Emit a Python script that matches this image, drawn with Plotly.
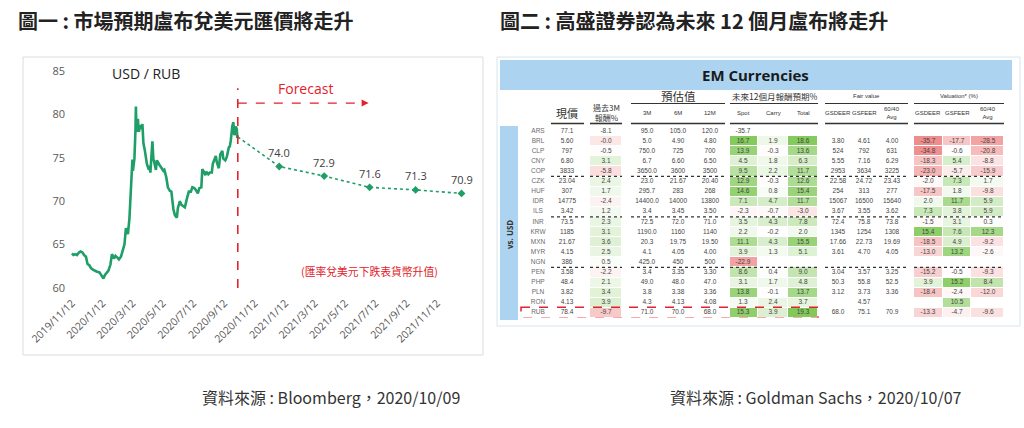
import plotly.graph_objects as go

# ---------------- data: left chart ----------------
hist_dates = [
    "2019-11-12","2019-11-15","2019-11-19","2019-11-22","2019-11-26","2019-11-29","2019-12-03","2019-12-06",
    "2019-12-10","2019-12-13","2019-12-17","2019-12-20","2019-12-24","2019-12-27","2019-12-31","2020-01-06",
    "2020-01-10","2020-01-14","2020-01-17","2020-01-21","2020-01-24","2020-01-28","2020-01-31","2020-02-04",
    "2020-02-07","2020-02-11","2020-02-14","2020-02-18","2020-02-21","2020-02-25","2020-02-28","2020-03-03",
    "2020-03-06","2020-03-10","2020-03-12","2020-03-13","2020-03-16","2020-03-18","2020-03-19","2020-03-20",
    "2020-03-23","2020-03-24","2020-03-25","2020-03-27","2020-03-30","2020-04-01","2020-04-03","2020-04-06",
    "2020-04-08","2020-04-10","2020-04-14","2020-04-16","2020-04-17","2020-04-21","2020-04-23","2020-04-24",
    "2020-04-28","2020-04-30","2020-05-05","2020-05-08","2020-05-13","2020-05-15","2020-05-19","2020-05-22",
    "2020-05-26","2020-05-29","2020-06-02","2020-06-05","2020-06-09","2020-06-11","2020-06-15","2020-06-18",
    "2020-06-22","2020-06-25","2020-06-30","2020-07-03","2020-07-07","2020-07-10","2020-07-14","2020-07-17",
    "2020-07-21","2020-07-24","2020-07-28","2020-07-30","2020-08-03","2020-08-05","2020-08-07","2020-08-11",
    "2020-08-14","2020-08-18","2020-08-20","2020-08-24","2020-08-26","2020-08-28","2020-09-01","2020-09-04",
    "2020-09-08","2020-09-10","2020-09-14","2020-09-17","2020-09-21","2020-09-23","2020-09-25","2020-09-28",
    "2020-09-30","2020-10-02","2020-10-05","2020-10-07","2020-10-08","2020-10-09",
]
hist_values = [
    64.0, 63.8, 63.9, 63.8, 64.1, 64.2, 64.1, 63.8,
    63.6, 62.8, 62.6, 62.3, 62.1, 62.0, 61.9, 61.8,
    61.4, 61.1, 61.5, 61.8, 62.0, 62.7, 63.9, 63.4,
    63.7, 63.5, 63.3, 63.6, 64.2, 65.0, 66.9, 66.2,
    68.0, 72.5, 74.8, 73.5, 74.9, 78.0, 80.9, 78.0,
    79.5, 78.5, 78.0, 78.8, 78.3, 78.9, 76.7, 75.8,
    75.2, 74.3, 73.6, 74.1, 73.3, 76.9, 74.8, 74.7,
    73.6, 74.7, 74.2, 73.9, 73.5, 73.6, 72.7, 71.6,
    71.2, 71.1, 69.1, 68.4, 68.1, 69.2, 70.0, 69.6,
    69.4, 69.3, 70.5, 71.1, 71.1, 71.6, 71.5, 71.3,
    70.9, 71.5, 71.6, 73.7, 73.3, 73.0, 73.4, 73.1,
    73.3, 73.3, 74.3, 74.8, 75.2, 74.5, 73.8, 75.4,
    75.8, 74.9, 74.7, 75.1, 76.2, 76.3, 77.0, 78.6,
    79.1, 77.6, 78.6, 78.3, 77.3, 77.4,
]
forecast_dates = ["2020-10-09", "2020-12-31", "2021-03-31", "2021-06-30", "2021-09-30", "2021-12-31"]
forecast_values = [77.4, 74.0, 72.9, 71.6, 71.3, 70.9]
x_tick_dates = ["2019-11-12","2020-01-12","2020-03-12","2020-05-12","2020-07-12","2020-09-12","2020-11-12",
                "2021-01-12","2021-03-12","2021-05-12","2021-07-12","2021-09-12","2021-11-12"]
x_tick_labels = [d.replace("-0", "/").replace("-", "/") for d in x_tick_dates]
y_ticks = [60, 65, 70, 75, 80, 85]
forecast_start = "2020-10-09"

# ---------------- data: right table ----------------
codes = ["ARS","BRL","CLP","CNY","COP","CZK","HUF","IDR","ILS","INR","KRW","MXN","MYR","NGN","PEN","PHP","PLN","RON","RUB"]
price = ["77.1","5.60","797","6.80","3833","23.04","307","14775","3.42","73.5","1185","21.67","4.15","386","3.58","48.4","3.82","4.13","78.4"]
ret3m = ["-8.1","-0.0","-0.5","3.1","-5.8","2.4","1.7","-2.4","1.2","2.3","3.1","3.6","2.5","0.5","-2.2","2.1","3.4","3.9","-9.7"]
f3m = ["95.0","5.0","750.0","6.7","3650.0","23.0","295.7","14400.0","3.4","72.5","1190.0","20.3","4.1","425.0","3.4","49.0","3.8","4.3","71.0"]
f6m = ["105.0","4.90","725","6.60","3600","21.67","283","14000","3.45","72.0","1160","19.75","4.05","450","3.35","48.0","3.38","4.13","70.0"]
f12m = ["120.0","4.80","700","6.50","3500","20.40","268","13800","3.50","71.0","1140","19.50","4.00","500","3.30","47.0","3.36","4.08","68.0"]
spot = ["-35.7","16.7","13.9","4.5","9.5","12.9","14.6","7.1","-2.3","3.5","2.2","11.1","3.9","-22.9","8.6","3.1","13.8","1.3","15.3"]
carry = ["","1.9","-0.3","1.8","2.2","-0.3","0.8","4.7","-0.7","4.3","-0.2","4.3","1.3","","0.4","1.7","-0.1","2.4","3.9"]
total = ["","18.6","13.6","6.3","11.7","12.6","15.4","11.7","-3.0","7.8","2.0","15.5","5.1","","9.0","4.8","13.7","3.7","19.3"]
fv_gsdeer = ["","3.80","524","5.55","2953","22.58","254","15067","3.67","72.4","1345","17.66","3.61","","3.04","50.3","3.12","","68.0"]
fv_gsfeer = ["","4.61","792","7.16","3634","24.72","313","16500","3.55","75.8","1254","22.73","4.70","","3.57","55.8","3.73","4.57","75.1"]
fv_avg = ["","4.00","631","6.29","3225","23.43","277","15640","3.62","73.8","1308","19.69","4.05","","3.25","52.5","3.36","","70.9"]
val_gsdeer = ["","-35.7","-34.8","-18.3","-23.0","-2.0","-17.5","2.0","7.3","-1.5","15.4","-18.5","-13.0","","-15.2","3.9","-18.4","","-13.3"]
val_gsfeer = ["","-17.7","-0.6","5.4","-5.7","7.3","1.8","11.7","3.8","3.1","7.6","4.9","13.2","","-0.5","15.2","-2.4","10.5","-4.7"]
val_avg = ["","-28.5","-20.8","-8.8","-15.9","1.7","-9.8","5.9","5.9","0.3","12.3","-9.2","-2.6","","-9.3","8.4","-12.0","","-9.6"]

# ---------------- helpers / layout constants ----------------
W, H = 1024, 428
def px(x): return x / W
def py(y): return 1 - y / H

GREEN = "#1f9e68"
RED = "#e3222b"
CJK = "Noto Sans CJK TC"
NUM = "Liberation Sans Narrow, Liberation Sans, Arial"

fig = go.Figure()

# ---- left chart traces ----
fig.add_trace(go.Scatter(x=hist_dates, y=hist_values, mode="lines",
                         line=dict(color=GREEN, width=2.6), hoverinfo="skip",
                         xaxis="x", yaxis="y"))
fig.add_trace(go.Scatter(x=forecast_dates, y=forecast_values, mode="lines",
                         line=dict(color=GREEN, width=1.6, dash="dot"), hoverinfo="skip",
                         xaxis="x", yaxis="y"))
fig.add_trace(go.Scatter(x=forecast_dates[1:], y=forecast_values[1:], mode="markers",
                         marker=dict(symbol="diamond", size=6, color=GREEN), hoverinfo="skip",
                         xaxis="x", yaxis="y"))

annotations = []
def note(x, y, text, size, color, family, xanchor="center", **kw):
    annotations.append(dict(x=px(x), y=py(y), xref="paper", yref="paper", xanchor=xanchor, yanchor="middle",
                            text=text, showarrow=False, font=dict(size=size, color=color, family=family), **kw))

for d, v in zip(forecast_dates[1:], forecast_values[1:]):
    annotations.append(dict(x=d, y=v, xref="x", yref="y", text=f"{v:.1f}", showarrow=False,
                            xanchor="center", yshift=14, font=dict(size=11, color="#404040", family="Open Sans")))

shapes = []
# panel borders
shapes.append(dict(type="rect", xref="paper", yref="paper", x0=px(23), x1=px(483), y0=py(355), y1=py(57),
                   line=dict(color="#dcdcdc", width=1), fillcolor="rgba(0,0,0,0)", layer="below"))
shapes.append(dict(type="rect", xref="paper", yref="paper", x0=px(497), x1=px(1020), y0=py(326), y1=py(57),
                   line=dict(color="#d8e6ee", width=1), fillcolor="rgba(0,0,0,0)", layer="below"))
# forecast vertical line
shapes.append(dict(type="line", xref="x", yref="y", x0=forecast_start, x1=forecast_start, y0=60, y1=83.0,
                   line=dict(color=RED, width=1.6, dash="dash")))
# forecast arrow shaft
shapes.append(dict(type="line", xref="x", yref="y", x0=forecast_start, x1="2021-06-22", y0=81.3, y1=81.3,
                   line=dict(color=RED, width=1.4, dash="dash")))
annotations.append(dict(x="2021-06-28", y=81.3, xref="x", yref="y", ax="2021-06-12", ay=81.3,
                        axref="x", ayref="y", text="", showarrow=True, arrowhead=2, arrowsize=1,
                        arrowwidth=1.4, arrowcolor=RED))
note(110, 74, "USD / RUB", 14, "#222", "Open Sans", xanchor="left")
note(276, 88, "Forecast", 14, RED, "Open Sans", xanchor="left")
note(369, 271, "(匯率兌美元下跌表貨幣升值)", 10.8, RED, CJK)

# titles and sources
note(16, 20, "<b>圖一 : 市場預期盧布兌美元匯價將走升</b>", 20, "#222", CJK, xanchor="left")
note(498, 20, "<b>圖二 : 高盛證券認為未來 12 個月盧布將走升</b>", 20, "#222", CJK, xanchor="left")
note(200, 397, "資料來源 : Bloomberg，2020/10/09", 16, "#333", CJK, xanchor="left")
note(668, 397, "資料來源 : Goldman Sachs，2020/10/07", 16, "#333", CJK, xanchor="left")

# ---- right table ----
BLUE = "#acd3ef"
shapes.append(dict(type="rect", xref="paper", yref="paper", x0=px(500), x1=px(1012), y0=py(90), y1=py(60),
                   line=dict(width=0), fillcolor=BLUE, layer="below"))
shapes.append(dict(type="rect", xref="paper", yref="paper", x0=px(500), x1=px(518), y0=py(320), y1=py(126),
                   line=dict(width=0), fillcolor=BLUE, layer="below"))
note(755, 75, "<b>EM Currencies</b>", 15, "#1a1a1a", "Open Sans")
note(509, 235, "<b>vs. USD</b>", 8, "#333", "Open Sans", textangle=-90)

# column geometry (pixels)
col_centers = {"code": 538, "price": 567, "ret3m": 606, "f3m": 647, "f6m": 678, "f12m": 710,
               "spot": 743, "carry": 773, "total": 803, "fvd": 838, "fvf": 864, "fva": 892,
               "vd": 928, "vf": 957, "va": 988}
groups = [(551, 584), (590, 622), (631, 725), (730, 818), (825, 908), (914, 1004)]
top_groups = [(631, 725, "預估值", 11.5, CJK), (730, 818, "未來12個月報酬預期%", 8.5, CJK),
              (825, 908, "Fair value", 6, NUM), (914, 1004, "Valuation* (%)", 6, NUM)]
for x0, x1, label, size, fam in top_groups:
    note((x0 + x1) / 2, 96, label, size, "#333", fam)
    shapes.append(dict(type="line", xref="paper", yref="paper", x0=px(x0), x1=px(x1), y0=py(103.5), y1=py(103.5),
                       line=dict(color="#333", width=1.2)))
for x0, x1 in groups:
    shapes.append(dict(type="line", xref="paper", yref="paper", x0=px(x0), x1=px(x1), y0=py(123.5), y1=py(123.5),
                       line=dict(color="#333", width=1.6)))

headers = [("price", "現價", 11, CJK), ("ret3m", "過去3M<br>報酬%", 8, CJK),
           ("f3m", "3M", 6, NUM), ("f6m", "6M", 6, NUM), ("f12m", "12M", 6, NUM),
           ("spot", "Spot", 6, NUM), ("carry", "Carry", 6, NUM), ("total", "Total", 6, NUM),
           ("fvd", "GSDEER", 6, NUM), ("fvf", "GSFEER", 6, NUM), ("fva", "60/40<br>Avg", 6, NUM),
           ("vd", "GSDEER", 6, NUM), ("vf", "GSFEER", 6, NUM), ("va", "60/40<br>Avg", 6, NUM)]
for key, label, size, fam in headers:
    note(col_centers[key], 113, label, size, "#333", fam)

rows = list(range(len(codes)))

# heatmap colours for coloured columns
def tone(s, pos_scale, neg_scale):
    if s == "":
        return None
    v = float(s)
    if v == 0 and s.startswith("-"):
        return -0.2
    z = v / pos_scale if v >= 0 else v / neg_scale
    return max(-1.0, min(1.0, z))

heat_edges = [590, 622, 730, 758, 788, 818, 914, 943, 971, 1004]
z = []
for i in rows:
    z.append([
        None if i == 0 else tone(ret3m[i], 14, 22),
        None,
        None if i == 0 else tone(spot[i], 17, 30),
        tone(carry[i], 14, 14),
        tone(total[i], 19, 14),
        None,
        tone(val_gsdeer[i], 17, 38),
        tone(val_gsfeer[i], 17, 38),
        tone(val_avg[i], 17, 38),
    ])
row_edges = [r - 0.5 for r in rows] + [rows[-1] + 0.5]
fig.add_trace(go.Heatmap(z=z, x=heat_edges, y=row_edges, zmin=-1, zmax=1,
                         colorscale=[[0, "#ee8585"], [0.5, "#ffffff"], [1, "#82c95a"]],
                         showscale=False, xgap=1, ygap=1, hoverinfo="skip",
                         xaxis="x2", yaxis="y2"))

table_cols = [("code", codes, "#6b6b6b"), ("price", price, "#444"), ("ret3m", ret3m, "#444"),
              ("f3m", f3m, "#444"), ("f6m", f6m, "#444"), ("f12m", f12m, "#444"),
              ("spot", spot, "#444"), ("carry", carry, "#444"), ("total", total, "#444"),
              ("fvd", fv_gsdeer, "#444"), ("fvf", fv_gsfeer, "#444"), ("fva", fv_avg, "#444"),
              ("vd", val_gsdeer, "#444"), ("vf", val_gsfeer, "#444"), ("va", val_avg, "#444")]
for key, vals, color in table_cols:
    fig.add_trace(go.Scatter(x=[col_centers[key]] * len(vals), y=rows, text=vals, mode="text",
                             textfont=dict(size=6.5, color=color, family=NUM), hoverinfo="skip",
                             xaxis="x2", yaxis="y2"))

# dashed separators between regions
for r in [4.5, 8.5, 13.5]:
    for x0, x1 in groups:
        shapes.append(dict(type="line", xref="x2", yref="y2", x0=x0, x1=x1, y0=r, y1=r,
                           line=dict(color="#333", width=1.2, dash="dot")))
# red highlight around RUB
rub = codes.index("RUB")
shapes.append(dict(type="rect", xref="x2", yref="y2", x0=521, x1=818, y0=rub - 0.55, y1=rub + 0.55,
                   line=dict(color=RED, width=1.5, dash="dash"), fillcolor="rgba(0,0,0,0)"))

row_top_px = 131 - 5.05
row_bot_px = 131 + 10.1 * (len(codes) - 1) + 5.05

fig.update_layout(
    template="none",
    width=W, height=H, margin=dict(l=0, r=0, t=0, b=0, pad=0, autoexpand=False),
    paper_bgcolor="white", plot_bgcolor="rgba(0,0,0,0)",
    showlegend=False, hovermode=False,
    xaxis=dict(domain=[px(66), px(470)], range=["2019-10-31", "2022-01-17"], type="date",
               tickvals=x_tick_dates, ticktext=x_tick_labels, tickangle=-45, automargin=False,
               ticklabelstandoff=6,
               showgrid=False, zeroline=False, showline=False, ticks="",
               tickfont=dict(size=10.5, color="#595959", family="Open Sans"), anchor="y"),
    yaxis=dict(domain=[py(288), py(71)], range=[60, 85], tickvals=y_ticks, automargin=False,
               showgrid=False, zeroline=False, showline=False, ticks="",
               tickfont=dict(size=11, color="#595959", family="Open Sans"), anchor="x"),
    xaxis2=dict(domain=[0, 1], range=[0, W], visible=False, anchor="y2", fixedrange=True, automargin=False),
    yaxis2=dict(domain=[py(row_bot_px), py(row_top_px)], range=[len(codes) - 0.5, -0.5],
                visible=False, anchor="x2", fixedrange=True, automargin=False),
    shapes=shapes, annotations=annotations,
)

fig.write_html("out.html", config={"displayModeBar": False, "staticPlot": True},
               post_script="document.body.style.margin='0';")
